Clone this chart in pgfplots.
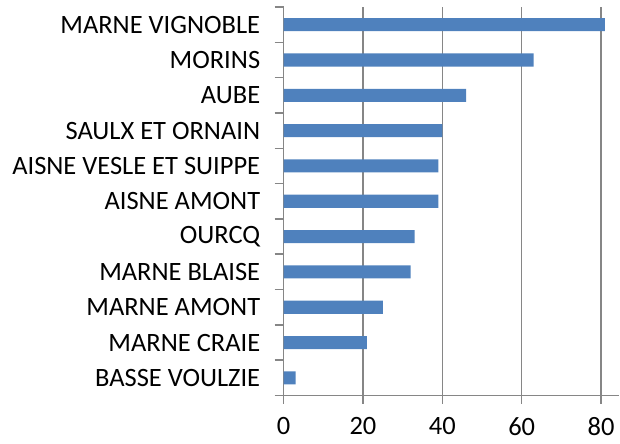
\documentclass[border=0pt]{standalone}
\usepackage{pgfplots}
\pgfplotsset{compat=1.18}
\usepackage{fontspec}
\setmainfont{Carlito}
\definecolor{barblue}{HTML}{4F81BD}
\definecolor{gridgray}{HTML}{868686}
\begin{document}
\begin{tikzpicture}
\path (0,0) rectangle (620bp,444bp);
\begin{axis}[
  at={(284bp,48bp)}, anchor=south west,
  scale only axis, width=336bp, height=389bp,
  xmin=0, xmax=84.6, ymin=-0.5, ymax=10.5,
  axis x line*=bottom, axis y line*=left,
  axis line style={gridgray, line width=1.5bp, -},
  xtick={0,20,40,60,80},
  xmajorgrids, major grid style={gridgray, line width=1.5bp},
  ytick={0,...,10},
  yticklabels={BASSE VOULZIE,MARNE CRAIE,MARNE AMONT,MARNE BLAISE,OURCQ,AISNE AMONT,AISNE VESLE ET SUIPPE,SAULX ET ORNAIN,AUBE,MORINS,MARNE VIGNOBLE},
  minor ytick={-0.5,0.5,...,10.5},
  tick align=outside,
  major tick length=8bp, minor tick length=9bp,
  tick style={gridgray, line width=1.5bp},
  major y tick style={draw=none},
  /pgf/number format/assume math mode=true,
  tick label style={font=\fontsize{26.5bp}{31bp}\selectfont, text=black},
  yticklabel style={xshift=-12bp},
  xticklabel style={inner sep=0pt, yshift=-14bp},
  xbar, bar width=0.37,
  clip=false,
]
\addplot[fill=barblue, draw=none] coordinates {
(3,0) (21,1) (25,2) (32,3) (33,4) (39,5) (39,6) (40,7) (46,8) (63,9) (81,10)};
\end{axis}
\end{tikzpicture}
\end{document}
